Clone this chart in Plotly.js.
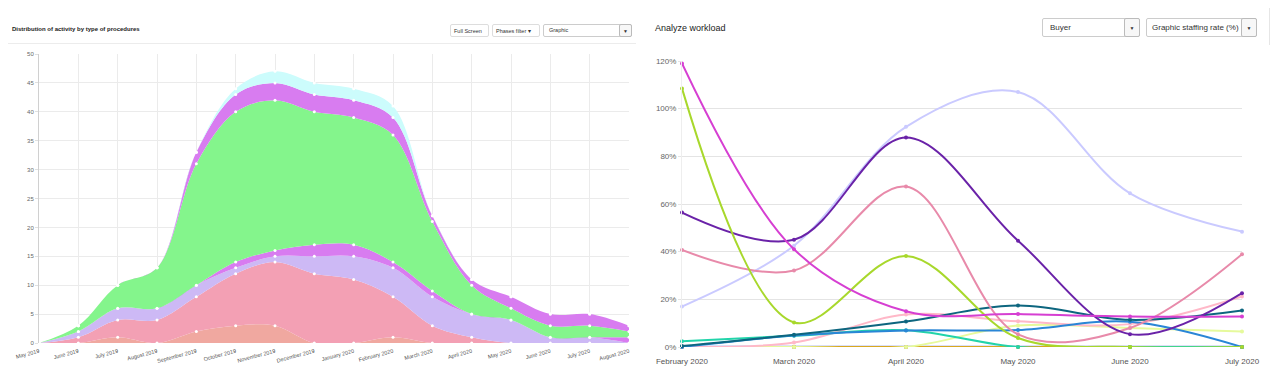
<!DOCTYPE html>
<html>
<head>
<meta charset="utf-8">
<script src="https://cdn.plot.ly/plotly-3.0.1.min.js"></script>
<style>
  html, body { margin:0; padding:0; background:#fff; width:1274px; height:391px; overflow:hidden; font-family:"Liberation Sans", Arial, sans-serif; }
  .abs { position:absolute; }
  #leftTitle { left:12px; top:26px; font-size:6px; color:#222; font-weight:bold; }
  .btn { position:absolute; border:1px solid #ddd; border-radius:2px; font-size:5.5px; color:#333; background:#fff; box-sizing:border-box; line-height:12px; padding:0 3px; }
  .sel { position:absolute; border:1px solid #ccc; border-radius:2px; color:#333; background:#fff; box-sizing:border-box; }
  .arrow { position:absolute; top:-1px; bottom:-1px; right:-1px; border:1px solid #bbb; border-radius:2px; background:#f7f7f7; box-sizing:border-box; }
  .arrow span { position:absolute; left:50%; top:50%; transform:translate(-50%,-50%); font-size:5px; color:#333; }
  #rightTitle { left:655px; top:23px; font-size:9px; color:#222; }
  .hr { position:absolute; height:1px; background:#ececec; }
  #leftPlot { position:absolute; left:0; top:45px; width:640px; height:346px; }
  #rightPlot { position:absolute; left:640px; top:45px; width:634px; height:346px; }
</style>
</head>
<body>
<div id="leftTitle" class="abs">Distribution of activity by type of procedures</div>
<div class="btn" style="left:450px; top:24px; width:39px; height:13px;">Full Screen</div>
<div class="btn" style="left:492px; top:24px; width:48px; height:13px;">Phases filter ▾</div>
<div class="sel" style="left:543px; top:24px; width:89px; height:13px; font-size:5.5px; line-height:11px; padding-left:5px;">Graphic<div class="arrow" style="width:13px;"><span>▼</span></div></div>
<div class="hr" style="left:8px; top:43px; width:628px;"></div>

<div id="rightTitle" class="abs">Analyze workload</div>
<div class="sel" style="left:1042px; top:18px; width:98px; height:19px; font-size:8px; line-height:17px; padding-left:7px;">Buyer<div class="arrow" style="width:16px;"><span>▼</span></div></div>
<div class="sel" style="left:1146px; top:18px; width:111px; height:19px; font-size:8px; line-height:17px; padding-left:5px;">Graphic staffing rate (%)<div class="arrow" style="width:16px;"><span>▼</span></div></div>
<div class="hr" style="left:648px; top:45px; width:620px;"></div>
<div class="abs" style="left:1269px; top:8px; width:1px; height:383px; background:#e6e6e6;"></div>

<div id="leftPlot"></div>
<div id="rightPlot"></div>

<script>
// ---------- Left chart data (stacked, per-layer values) ----------
const leftMonths = ["May 2019","June 2019","July 2019","August 2019","September 2019","October 2019","November 2019","December 2019","January 2020","February 2020","March 2020","April 2020","May 2020","June 2020","July 2020","August 2020"];
const layerSalmon   = [0,0,1,0,2,3,3,0,0,1,0,0,0,0,0,0];
const layerPink     = [0,1,3,4,6,9,11,12,11,7,3,1,0,0,0,0];
const layerLavender = [0,1,2,2,2,1,1,3,4,5,5,4,4,1,1,0];
const layerMagentaLow = [0,0,0,0,0,1,1,2,2,1,1,0,0,0,0,1];
const layerGreen    = [0,1,4,7,21,26,26,23,22,22,12,5,2,2,2,1];
const layerMagentaHigh = [0,0,0,0,2,3,3,3,3,3,1,1,2,2,2,1];
const layerCyan     = [0,0,0,0,0,1,2,2,2,2,0,0,0,0,0,0];

// ---------- Right chart data (percent) ----------
const rightMonths = ["February 2020","March 2020","April 2020","May 2020","June 2020","July 2020"];
const sMagenta    = [119,41,15,13.8,12.8,12.8];
const sLime       = [108.5,10.3,38.2,3.8,0,0];
const sPurple     = [56.4,45,87.9,44.6,5.4,22.6];
const sPink       = [40.7,32.1,67.3,5.3,8,38.9];
const sLavender   = [17,42.5,92.4,107,64.5,48.4];
const sDarkTeal   = [0.4,5.1,10.7,17.4,11.4,15.3];
const sBlue       = [0,4.8,6.9,7.1,10.6,0];
const sTealGreen  = [2.4,4.7,7,0,0,0];
const sLightPink  = [0,1.9,13.6,10.8,9.6,21.2];
const sPaleYellow = [0,0,0,9,8,6.5];
const sPeriwinkle = [0,0,0,0,0,0];
const sGold       = [0,0,0,0,0,0];
const sSage       = [0,0,0,0,0,0];

const xi = leftMonths.map((_, i) => i);
const layers = [
  [layerSalmon, '#f0a8a0'],
  [layerPink, '#f3a0b4'],
  [layerLavender, '#cdb9f5'],
  [layerMagentaLow, '#d87cf0'],
  [layerGreen, '#84f58c'],
  [layerMagentaHigh, '#d87cf0'],
  [layerCyan, '#ccfcfc']
];
const leftTraces = layers.map(([vals, col]) => ({
  x: xi, y: vals, type: 'scatter', mode: 'lines+markers',
  stackgroup: 'one', fillcolor: col,
  line: {shape: 'spline', smoothing: 1, width: 0, color: col},
  marker: {color: '#ffffff', size: 3},
  cliponaxis: false, hoverinfo: 'skip'
}));

Plotly.newPlot('leftPlot', leftTraces, {
  width: 640, height: 346,
  margin: {l: 39, r: 11, t: 9, b: 48},
  paper_bgcolor: '#fff', plot_bgcolor: '#fff',
  showlegend: false,
  font: {family: '"Liberation Sans", Arial, sans-serif', color: '#666', size: 6},
  xaxis: {
    range: [0, 15], tickvals: xi, ticktext: leftMonths, tickangle: -15,
    showgrid: true, gridcolor: '#ebebeb', gridwidth: 1, zeroline: false,
    showline: false, ticks: 'outside', ticklen: 2, tickcolor: 'rgba(0,0,0,0)',
    tickfont: {size: 5.5, color: '#555'}, fixedrange: true
  },
  yaxis: {
    range: [0, 50], dtick: 5, tick0: 0, showgrid: true, gridcolor: '#ebebeb',
    zeroline: false, showline: true, linecolor: '#d0d0d0', linewidth: 1,
    ticks: 'outside', ticklen: 3, tickcolor: '#e0e0e0', tickfont: {size: 6, color: '#666'}, fixedrange: true
  }
}, {staticPlot: true});

const rightSeries = [
  [sPeriwinkle, '#b8c0f2', 3],
  [sSage, '#a8c4a0', 2],
  [sGold, '#d8a820', 2],
  [sPaleYellow, '#e6fa9c', 2],
  [sLightPink, '#ffb8c8', 2],
  [sTealGreen, '#22d4aa', 2],
  [sBlue, '#2a86d6', 2],
  [sDarkTeal, '#0d667f', 2],
  [sLavender, '#cacaff', 2],
  [sPink, '#e88aaa', 2],
  [sPurple, '#6a22a8', 2],
  [sLime, '#a8d82c', 2],
  [sMagenta, '#d63fd2', 2]
];
const rx = rightMonths.map((_, i) => i);
const rightTraces = rightSeries.map(([vals, col, w]) => ({
  x: rx, y: vals, type: 'scatter', mode: 'lines+markers',
  line: {shape: 'spline', smoothing: 1, width: w, color: col},
  marker: {color: col, size: 4},
  cliponaxis: false, hoverinfo: 'skip'
}));

Plotly.newPlot('rightPlot', rightTraces, {
  width: 634, height: 346,
  margin: {l: 42, r: 32, t: 16, b: 44},
  paper_bgcolor: '#fff', plot_bgcolor: '#fff',
  showlegend: false,
  font: {family: '"Liberation Sans", Arial, sans-serif', color: '#666', size: 8},
  xaxis: {
    range: [0, 5], tickvals: rx, ticktext: rightMonths, tickangle: 0,
    showgrid: false, zeroline: false, showline: false,
    ticks: 'outside', ticklen: 6, tickcolor: 'rgba(0,0,0,0)',
    tickfont: {size: 8, color: '#555'}, fixedrange: true
  },
  yaxis: {
    range: [0, 120], dtick: 20, tick0: 0, ticksuffix: '%',
    showgrid: true, gridcolor: '#e4e4e4', zeroline: false,
    showline: true, linecolor: '#eeeeee', ticks: 'outside', ticklen: 3, tickcolor: '#e4e4e4',
    tickfont: {size: 8, color: '#666'}, fixedrange: true
  }
}, {staticPlot: true});
</script>
</body>
</html>
